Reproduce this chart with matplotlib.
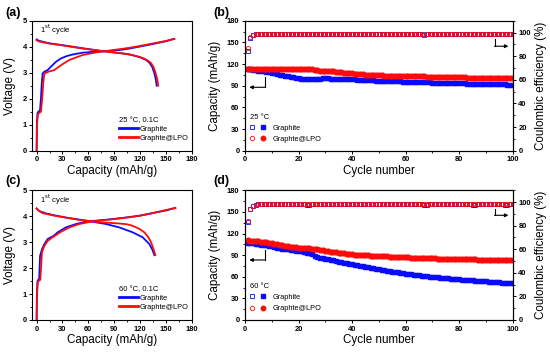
import numpy as np
import matplotlib
matplotlib.use("Agg")
import matplotlib.pyplot as plt
from matplotlib.ticker import MultipleLocator
from matplotlib.legend_handler import HandlerTuple
from matplotlib.lines import Line2D

plt.rcParams['font.family'] = ['Liberation Sans', 'DejaVu Sans']

BLUE = '#0a0aff'
RED = '#ff0a0a'

# ---------------- data: panel (a) 25 C voltage profiles ----------------
a_gr_chg_cap = [0, 0.3, 1, 2, 3.9, 5, 6, 7, 9, 12.8, 16.6, 22.5, 28.3, 35, 41.8, 53.4, 65, 72.8, 85, 96, 108, 119, 130, 138.6, 150, 159]
a_gr_chg_v = [0, 1.0, 1.44, 1.5, 1.54, 2.0, 2.6, 2.97, 3.04, 3.1, 3.23, 3.42, 3.55, 3.64, 3.7, 3.77, 3.8, 3.81, 3.84, 3.87, 3.93, 4.0, 4.07, 4.13, 4.21, 4.3]
a_lpo_chg_cap = [0, 0.5, 1.5, 3, 5, 6.5, 7.7, 8.9, 11, 14.7, 20.5, 28.3, 38, 53.4, 69, 88.3, 100, 115.4, 128, 139, 150, 160]
a_lpo_chg_v = [0, 1.0, 1.41, 1.45, 1.5, 2.0, 2.59, 2.95, 3.0, 3.05, 3.1, 3.29, 3.49, 3.68, 3.78, 3.87, 3.92, 4.0, 4.08, 4.15, 4.22, 4.3]
a_gr_dis_cap = [0, 2, 7, 15, 30, 53.4, 76.7, 100, 108, 115.4, 121, 127, 131, 134, 136.5, 138.3, 139.4]
a_gr_dis_v = [4.28, 4.24, 4.19, 4.13, 4.06, 3.94, 3.83, 3.74, 3.70, 3.64, 3.58, 3.49, 3.38, 3.23, 3.0, 2.75, 2.5]
a_lpo_dis_cap = [0, 2, 7, 15, 30, 53.4, 76.7, 100, 108, 115.4, 122, 128, 132.5, 135.5, 138, 140, 141.2]
a_lpo_dis_v = [4.25, 4.21, 4.17, 4.12, 4.05, 3.93, 3.83, 3.74, 3.70, 3.64, 3.58, 3.49, 3.38, 3.23, 3.0, 2.75, 2.5]

# ---------------- data: panel (c) 60 C voltage profiles ----------------
c_gr_chg_cap = [0, 0.3, 1, 3, 4, 6.2, 8.9, 12.8, 16.6, 20, 24.4, 34, 45.7, 57.3, 69, 82, 96, 108, 119, 130, 138.6, 150, 161]
c_gr_chg_v = [0, 1.0, 1.5, 1.6, 2.47, 2.72, 2.92, 3.12, 3.19, 3.25, 3.38, 3.57, 3.7, 3.79, 3.83, 3.87, 3.92, 3.97, 4.02, 4.09, 4.15, 4.22, 4.32]
c_lpo_chg_cap = [0, 0.5, 1.5, 4.3, 6.2, 8.9, 12.8, 18.6, 28.3, 38, 49.6, 63, 84.4, 107.6, 120, 130.8, 145, 161]
c_lpo_chg_v = [0, 1.0, 1.48, 1.55, 2.61, 2.85, 3.05, 3.19, 3.4, 3.57, 3.7, 3.79, 3.87, 3.96, 4.02, 4.09, 4.2, 4.32]
c_gr_dis_cap = [0, 3, 10.8, 20, 34, 57.3, 80.5, 96, 111.5, 123, 130.8, 134.5, 136.7]
c_gr_dis_v = [4.3, 4.2, 4.11, 4.04, 3.95, 3.83, 3.7, 3.57, 3.38, 3.19, 2.93, 2.7, 2.5]
c_lpo_dis_cap = [0, 3, 7, 22.5, 49.6, 76.7, 96, 105, 111.5, 119, 125, 129.5, 132.8, 135.5, 137.8]
c_lpo_dis_v = [4.3, 4.2, 4.12, 4.01, 3.86, 3.76, 3.72, 3.69, 3.63, 3.52, 3.38, 3.2, 3.0, 2.75, 2.5]

# ---------------- data: cycling ----------------
cycles = np.arange(1, 101)

b_gr_cap = [113.0, 112.6, 112.1, 111.6, 111.0, 110.4, 109.8, 109.2, 108.6, 108.0,
            107.3, 106.2, 105.4, 104.6, 103.8, 103.0, 102.2, 101.5, 100.8, 100.2,
            99.8, 99.6, 99.5, 99.5, 99.6, 99.7, 99.8, 99.9, 100.0, 100.0,
            100.0, 99.9, 99.8, 99.7, 99.6, 99.5, 99.3, 99.2, 99.0, 98.8,
            98.6, 98.4, 98.2, 98.0, 97.8, 97.6, 97.4, 97.2, 97.0, 96.8,
            96.7, 96.6, 96.5, 96.4, 96.3, 96.1, 96.0, 95.9, 95.7, 95.6,
            95.5, 95.4, 95.3, 95.1, 95.0, 94.9, 94.8, 94.7, 94.5, 94.4,
            94.3, 94.2, 94.1, 94.0, 93.9, 93.8, 93.7, 93.6, 93.4, 93.3,
            93.2, 93.1, 93.0, 92.9, 92.8, 92.7, 92.6, 92.5, 92.4, 92.3,
            92.2, 92.1, 92.0, 91.9, 91.9, 91.8, 91.7, 91.6, 91.5, 91.4]
b_lpo_cap = [113.0, 113.3, 113.2, 113.0, 112.9, 112.8, 112.8, 112.7, 112.7, 112.7,
             112.7, 112.7, 112.8, 112.8, 112.9, 112.9, 113.0, 113.0, 113.1, 113.1,
             113.1, 113.0, 113.0, 112.9, 112.7, 112.3, 111.5, 110.8, 110.9, 110.7,
             110.4, 110.1, 109.8, 109.4, 109.0, 108.6, 108.2, 107.8, 107.4, 107.1,
             106.7, 106.4, 106.1, 105.8, 105.5, 105.2, 105.0, 104.8, 104.6, 104.4,
             104.2, 104.1, 104.0, 103.9, 103.8, 103.7, 103.6, 103.5, 103.5, 103.4,
             103.3, 103.2, 103.2, 103.1, 103.0, 102.9, 102.8, 102.7, 102.6, 102.5,
             102.4, 102.3, 102.2, 102.1, 102.0, 101.9, 101.8, 101.8, 101.7, 101.6,
             101.5, 101.4, 101.3, 101.2, 101.1, 101.0, 100.9, 100.8, 100.8, 100.7,
             100.6, 100.6, 100.5, 100.5, 100.4, 100.4, 100.3, 100.3, 100.2, 100.2]
b_gr_ce = [84.3, 95.5, 97.8, 98.5, 98.6, 98.6, 98.7, 98.6, 98.6, 98.7,
           98.6, 98.6, 98.7, 98.6, 98.6, 98.6, 98.7, 98.6, 98.6, 98.6,
           98.7, 98.6, 98.6, 98.6, 98.7, 98.6, 98.6, 98.6, 98.6, 98.7,
           98.6, 98.6, 98.6, 98.7, 98.6, 98.6, 98.6, 98.6, 98.7, 98.6,
           98.6, 98.6, 98.7, 98.6, 98.6, 98.6, 98.9, 98.6, 98.6, 98.6,
           98.7, 98.6, 98.6, 98.6, 98.6, 98.7, 98.6, 98.6, 98.6, 98.6,
           98.7, 98.6, 98.6, 98.6, 98.6, 98.4, 98.2, 98.6, 98.6, 98.6,
           98.6, 98.7, 98.6, 98.6, 98.6, 98.6, 98.7, 98.6, 98.6, 98.6,
           98.6, 98.7, 98.6, 98.6, 98.6, 98.6, 98.7, 98.6, 98.6, 98.6,
           98.6, 98.6, 98.7, 98.6, 98.6, 98.6, 98.6, 98.7, 98.6, 98.6]
b_lpo_ce = [86.7, 96.0, 97.9, 98.5, 98.6, 98.6, 98.6, 98.7, 98.6, 98.6,
            98.6, 98.7, 98.6, 98.6, 98.6, 98.6, 98.7, 98.6, 98.6, 98.6,
            98.6, 98.6, 98.7, 98.6, 98.6, 98.6, 98.6, 98.7, 98.6, 98.6,
            98.6, 98.7, 98.6, 98.6, 98.6, 98.6, 98.7, 98.6, 98.6, 98.6,
            98.6, 98.7, 98.6, 98.6, 98.6, 98.6, 98.7, 98.6, 98.6, 98.6,
            98.6, 98.6, 98.7, 98.6, 98.6, 98.6, 98.6, 98.7, 98.6, 98.6,
            98.6, 98.6, 98.7, 98.6, 98.6, 98.6, 98.3, 98.6, 98.6, 98.6,
            98.6, 98.7, 98.6, 98.6, 98.6, 98.6, 98.7, 98.6, 98.6, 98.6,
            98.6, 98.6, 98.7, 98.6, 98.6, 98.6, 98.6, 98.7, 98.6, 98.6,
            98.6, 98.6, 98.6, 98.7, 98.6, 98.6, 98.6, 98.6, 98.7, 98.6]

d_gr_cap = [107.3, 106.8, 106.3, 105.8, 105.2, 104.6, 104.0, 103.4, 102.8, 102.2,
            101.6, 100.4, 99.8, 99.2, 98.6, 98.0, 97.4, 96.9, 96.4, 95.8,
            95.2, 94.5, 93.6, 92.5, 91.0, 89.5, 88.0, 86.5, 85.8, 85.0,
            84.2, 83.4, 82.6, 81.5, 80.5, 79.8, 79.1, 78.5, 77.9, 77.3,
            76.6, 75.9, 75.2, 74.5, 73.8, 73.1, 72.4, 71.7, 71.0, 70.3,
            69.7, 69.1, 68.5, 67.9, 67.3, 66.7, 66.1, 65.5, 64.9, 64.3,
            63.8, 63.3, 62.8, 62.4, 61.9, 61.5, 61.0, 60.6, 60.1, 59.7,
            59.3, 59.0, 58.6, 58.3, 57.9, 57.6, 57.3, 57.0, 56.7, 56.4,
            56.1, 55.8, 55.6, 55.3, 55.0, 54.7, 54.5, 54.2, 54.0, 53.7,
            53.4, 53.1, 52.8, 52.5, 52.2, 51.9, 51.7, 51.4, 51.1, 50.9]
d_lpo_cap = [110.6, 110.3, 109.9, 109.5, 109.1, 108.6, 108.1, 107.6, 107.0, 106.4,
             105.7, 105.0, 104.4, 103.8, 103.2, 102.6, 102.0, 101.4, 100.9, 100.4,
             100.1, 99.8, 99.6, 99.3, 99.0, 98.5, 97.9, 97.2, 96.5, 95.8,
             95.3, 94.8, 94.3, 93.8, 93.3, 92.9, 92.5, 92.1, 91.6, 91.2,
             90.9, 90.7, 90.4, 90.2, 89.9, 89.7, 89.5, 89.3, 89.0, 88.8,
             88.6, 88.4, 88.3, 88.1, 87.9, 87.8, 87.6, 87.4, 87.2, 87.0,
             86.9, 86.7, 86.6, 86.4, 86.3, 86.2, 86.0, 85.9, 85.7, 85.6,
             85.5, 85.3, 85.2, 85.0, 84.9, 84.8, 84.6, 84.5, 84.4, 84.2,
             84.2, 84.1, 84.1, 84.0, 84.0, 84.0, 83.9, 83.9, 83.9, 83.8,
             83.8, 83.8, 83.8, 83.7, 83.7, 83.7, 83.7, 83.7, 83.7, 83.7]
d_gr_ce = [83.0, 93.8, 96.5, 97.8, 98.0, 98.1, 98.1, 98.0, 98.1, 98.1,
           98.1, 98.0, 98.1, 98.1, 98.1, 98.0, 98.1, 98.1, 98.1, 98.0,
           98.1, 98.0, 97.2, 97.3, 98.0, 98.1, 98.1, 98.0, 98.1, 98.1,
           98.1, 98.0, 98.1, 98.1, 98.1, 98.0, 98.1, 98.1, 98.1, 98.0,
           98.1, 98.1, 98.0, 98.1, 98.1, 98.1, 98.0, 98.1, 98.1, 98.1,
           98.0, 98.1, 98.1, 98.1, 98.0, 98.1, 98.1, 98.1, 98.0, 98.1,
           98.1, 98.1, 98.0, 98.1, 98.1, 98.1, 97.6, 97.3, 98.0, 98.1,
           98.1, 98.0, 98.1, 98.1, 98.1, 98.0, 98.1, 98.1, 98.1, 98.0,
           98.1, 98.1, 98.0, 98.1, 97.6, 97.2, 98.0, 98.1, 98.1, 98.0,
           98.1, 98.1, 98.0, 98.1, 98.1, 98.0, 97.3, 97.6, 98.0, 98.1]
d_lpo_ce = [84.0, 94.0, 96.8, 97.9, 98.1, 98.1, 98.2, 98.1, 98.1, 98.2,
            98.1, 98.1, 98.2, 98.1, 98.1, 98.2, 98.1, 98.1, 98.2, 98.1,
            98.1, 98.2, 98.1, 98.1, 98.2, 98.8, 98.2, 98.1, 98.1, 98.2,
            98.1, 98.1, 98.2, 98.1, 98.1, 98.2, 98.1, 98.1, 98.2, 98.1,
            98.1, 98.2, 98.1, 98.1, 98.2, 98.1, 98.1, 98.2, 98.1, 98.1,
            98.2, 98.1, 98.1, 98.2, 98.1, 98.1, 98.2, 98.1, 98.1, 98.2,
            98.1, 98.1, 98.2, 98.1, 98.1, 98.2, 98.1, 98.1, 98.2, 98.1,
            98.1, 98.2, 98.1, 98.1, 98.2, 98.1, 98.1, 98.2, 98.1, 98.1,
            98.2, 98.1, 98.1, 98.2, 98.1, 98.1, 98.2, 98.1, 98.1, 98.2,
            98.1, 98.1, 98.2, 98.1, 98.1, 98.2, 98.1, 98.1, 98.2, 98.1]

labels = ['Graphite', 'Graphte@LPO']
temps = ['25 °C', '60 °C']

# ---------------- figure ----------------
W, H = 550, 353
fig = plt.figure(figsize=(W / 100, H / 100), dpi=100)


def frac(l, t, r, b):
    return [l / W, 1 - b / H, (r - l) / W, (b - t) / H]


TICK_FS = 5.4
LAB_FS = 8.4


def style_ax(ax):
    for s in ax.spines.values():
        s.set_linewidth(0.8)
    ax.tick_params(which='major', direction='out', length=2.5, width=0.7,
                   labelsize=TICK_FS, pad=1.5)
    ax.tick_params(which='minor', direction='out', length=1.5, width=0.6)
    for lab in ax.get_xticklabels() + ax.get_yticklabels():
        lab.set_fontweight('bold')


def volt_panel(rect, data, cond, tag, tag_dy):
    ax = fig.add_axes(rect)
    (gc, gv, lc, lv, gdc, gdv, ldc, ldv) = data
    ax.plot(gc, gv, color=BLUE, lw=1.3)
    ax.plot(gdc, gdv, color=BLUE, lw=1.3)
    ax.plot(lc, lv, color=RED, lw=1.3)
    ax.plot(ldc, ldv, color=RED, lw=1.3)
    ax.set_xlim(-5, 180)
    ax.set_ylim(0, 5)
    ax.xaxis.set_major_locator(MultipleLocator(30))
    ax.xaxis.set_minor_locator(MultipleLocator(15))
    ax.yaxis.set_major_locator(MultipleLocator(1))
    ax.yaxis.set_minor_locator(MultipleLocator(0.5))
    style_ax(ax)
    ax.set_xlabel('Capacity (mAh/g)', fontsize=LAB_FS, labelpad=1)
    ax.set_ylabel('Voltage (V)', fontsize=LAB_FS, labelpad=5)
    ax.text(0.05, 0.93, '1$^{\\rm st}$ cycle', transform=ax.transAxes,
            fontsize=5.5, va='center', ha='left')
    h = [Line2D([], [], color=BLUE, lw=2.0), Line2D([], [], color=RED, lw=2.0)]
    ax.legend(h, labels, title=cond, loc='lower right',
              bbox_to_anchor=(1.01, 0.03), frameon=False, fontsize=5.3,
              title_fontsize=5.5, handlelength=2.6, handletextpad=0.2,
              labelspacing=0.25, borderpad=0.2, alignment='left')
    fig.text(5 / W, rect[1] + rect[3] + tag_dy / H, tag,
             fontsize=9, fontweight='bold', ha='left', va='center')
    return ax


def cyc_panel(rect, gcap, lcap, gce, lce, temp, tag, tag_dy, arrL, arrR):
    ax = fig.add_axes(rect)
    ax2 = ax.twinx()
    ax.plot(cycles, gcap, ls='none', marker='s', ms=3.2, color=BLUE, mec=BLUE)
    ax.plot(cycles, lcap, ls='none', marker='o', ms=3.4, color=RED, mec=RED)
    ax2.plot(cycles, gce, ls='none', marker='s', ms=2.8, mfc='none', mec=BLUE, mew=0.6)
    ax2.plot(cycles, lce, ls='none', marker='o', ms=3.0, mfc='none', mec=RED, mew=0.6)
    ax.set_xlim(0, 100)
    ax.set_ylim(0, 180)
    ax2.set_ylim(0, 110)
    ax.xaxis.set_major_locator(MultipleLocator(20))
    ax.xaxis.set_minor_locator(MultipleLocator(10))
    ax.yaxis.set_major_locator(MultipleLocator(30))
    ax.yaxis.set_minor_locator(MultipleLocator(15))
    ax2.yaxis.set_major_locator(MultipleLocator(20))
    ax2.yaxis.set_minor_locator(MultipleLocator(10))
    style_ax(ax)
    style_ax(ax2)
    ax.set_xlabel('Cycle number', fontsize=LAB_FS, labelpad=1)
    ax.set_ylabel('Capacity (mAh/g)', fontsize=LAB_FS, labelpad=4)
    ax2.set_ylabel('Coulombic efficiency (%)', fontsize=LAB_FS, labelpad=3)
    # arrows
    (lx0, ly0, ly1, lx1) = arrL
    ax.plot([lx0, lx0], [ly0, ly1], color='black', lw=0.8)
    ax.annotate('', xy=(lx1, ly1), xytext=(lx0 + 0.2, ly1),
                arrowprops=dict(arrowstyle='-|>', color='black', lw=0.8,
                                mutation_scale=5, shrinkA=0, shrinkB=0))
    (rx0, ry0, ry1, rx1) = arrR
    ax2.plot([rx0, rx0], [ry0, ry1], color='black', lw=0.8)
    ax2.annotate('', xy=(rx1, ry1), xytext=(rx0 - 0.2, ry1),
                 arrowprops=dict(arrowstyle='-|>', color='black', lw=0.8,
                                 mutation_scale=5, shrinkA=0, shrinkB=0))
    h = [(Line2D([], [], ls='none', marker='s', ms=3, mfc='none', mec=BLUE, mew=0.6),
          Line2D([], [], ls='none', marker='s', ms=3, color=BLUE)),
         (Line2D([], [], ls='none', marker='o', ms=3.2, mfc='none', mec=RED, mew=0.6),
          Line2D([], [], ls='none', marker='o', ms=3.2, color=RED))]
    ax2.legend(h, labels, title=temp, loc='lower left', bbox_to_anchor=(0.0, 0.02),
               frameon=False, fontsize=5.3, title_fontsize=5.5,
               handler_map={tuple: HandlerTuple(ndivide=None, pad=1.2)},
               handlelength=2.0, handletextpad=1.1, labelspacing=0.55,
               borderpad=0.2, alignment='left')
    fig.text(213 / W, rect[1] + rect[3] + tag_dy / H, tag,
             fontsize=9, fontweight='bold', ha='left', va='center')
    return ax, ax2


volt_panel(frac(32.3, 20.7, 191.7, 150.7),
           (a_gr_chg_cap, a_gr_chg_v, a_lpo_chg_cap, a_lpo_chg_v,
            a_gr_dis_cap, a_gr_dis_v, a_lpo_dis_cap, a_lpo_dis_v),
           '25 °C, 0.1C', '(a)', 8)
volt_panel(frac(32.3, 190.3, 191.7, 320),
           (c_gr_chg_cap, c_gr_chg_v, c_lpo_chg_cap, c_lpo_chg_v,
            c_gr_dis_cap, c_gr_dis_v, c_lpo_dis_cap, c_lpo_dis_v),
           '60 °C, 0.1C', '(c)', 9)
cyc_panel(frac(245, 20.7, 512.7, 150.7), b_gr_cap, b_lpo_cap, b_gr_ce, b_lpo_ce,
          temps[0], '(b)', 8, (7.5, 102.5, 87.8, 1.6), (93.4, 94.1, 88.4, 98.4))
cyc_panel(frac(245, 190.3, 512.7, 320), d_gr_cap, d_lpo_cap, d_gr_ce, d_lpo_ce,
          temps[1], '(d)', 9, (7.5, 97.1, 83.3, 1.6), (93.4, 94.4, 88.8, 98.4))

fig.savefig('out.png', dpi=100)
